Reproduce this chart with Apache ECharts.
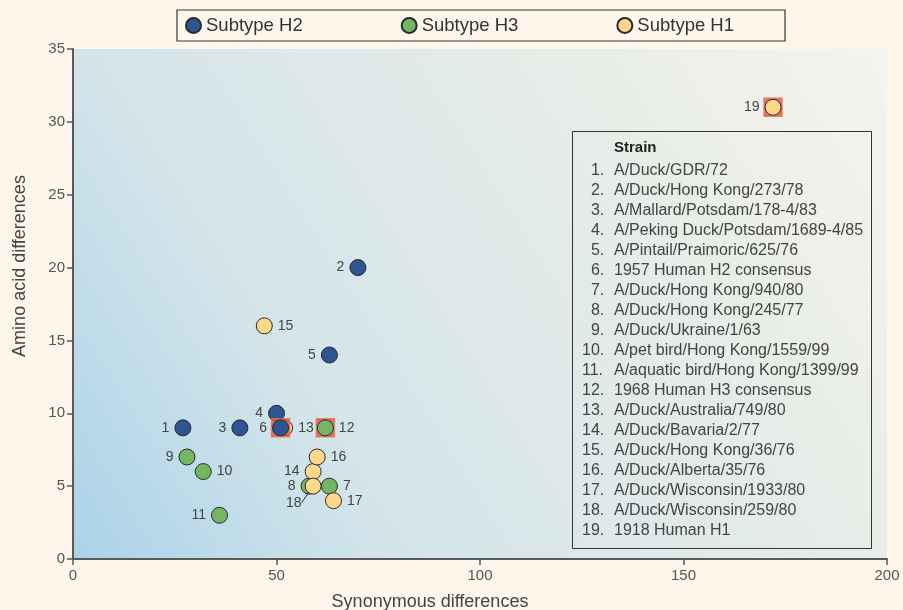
<!DOCTYPE html>
<html>
<head>
<meta charset="utf-8">
<script src="https://cdn.jsdelivr.net/npm/echarts@6/dist/echarts.min.js"></script>
<style>
  html, body { margin: 0; padding: 0; background: #fef6ea; }
  #chart { width: 903px; height: 610px; }
</style>
</head>
<body>
<div id="chart"></div>
<script>
// Strain data: index i is strain number i+1
var strainNames = [
    'A/Duck/GDR/72',
    'A/Duck/Hong Kong/273/78',
    'A/Mallard/Potsdam/178-4/83',
    'A/Peking Duck/Potsdam/1689-4/85',
    'A/Pintail/Praimoric/625/76',
    '1957 Human H2 consensus',
    'A/Duck/Hong Kong/940/80',
    'A/Duck/Hong Kong/245/77',
    'A/Duck/Ukraine/1/63',
    'A/pet bird/Hong Kong/1559/99',
    'A/aquatic bird/Hong Kong/1399/99',
    '1968 Human H3 consensus',
    'A/Duck/Australia/749/80',
    'A/Duck/Bavaria/2/77',
    'A/Duck/Hong Kong/36/76',
    'A/Duck/Alberta/35/76',
    'A/Duck/Wisconsin/1933/80',
    'A/Duck/Wisconsin/259/80',
    '1918 Human H1'
];
var synonymousDiff = [27, 70, 41, 50, 63, 51, 63, 58, 28, 32, 36, 62, 52, 59, 47, 60, 64, 59, 172];
var aminoAcidDiff  = [9, 20, 9, 10, 14, 9, 5, 5, 7, 6, 3, 9, 9, 6, 16, 7, 4, 5, 31];
var strainSubtype  = ['H2', 'H2', 'H2', 'H2', 'H2', 'H2', 'H3', 'H3', 'H3', 'H3', 'H3', 'H3',
                      'H1', 'H1', 'H1', 'H1', 'H1', 'H1', 'H1'];
var humanStrains   = [6, 12, 19];
var subtypes       = ['H2', 'H3', 'H1'];
var xTicks = { min: 0, max: 200, interval: 50 };
var yTicks = { min: 0, max: 35, interval: 5 };

var EchartsScatter = function() {

    var subtypeColors = { H2: '#2c5592', H3: '#74b663', H1: '#fed98c' };
    var subtypeZ = { H3: 2, H1: 3, H2: 4 };

    // where each number label sits relative to its point
    var labelSide = {
        1: 'left', 2: 'left', 3: 'left', 4: 'left', 5: 'left', 6: 'left',
        7: 'right', 8: 'left', 9: 'left', 10: 'right', 11: 'left', 12: 'right',
        13: 'right', 14: 'left', 15: 'right', 16: 'right', 17: 'right', 19: 'left'
    };

    var makePoint = function(i) {
        var num = i + 1;
        var item = {
            name: String(num),
            value: [synonymousDiff[i], aminoAcidDiff[i]]
        };
        if (num === 18) {
            // label hangs below-left with a small leader line
            item.label = { position: [-3, 25], align: 'right', verticalAlign: 'middle' };
            item.labelLine = { show: true };
        } else {
            item.label = { position: labelSide[num] };
        }
        return item;
    };

    var pointsFor = function(sub, human) {
        var out = [];
        for (var i = 0; i < strainNames.length; i++) {
            var isHuman = humanStrains.indexOf(i + 1) >= 0;
            if (strainSubtype[i] === sub && isHuman === human) {
                out.push(makePoint(i));
            }
        }
        return out;
    };

    var baseSeries = function(sub, data, z) {
        return {
            name: 'Subtype ' + sub,
            type: 'scatter',
            symbol: 'circle',
            symbolSize: 16,
            z: z,
            data: data,
            itemStyle: {
                color: subtypeColors[sub],
                borderColor: '#2a2a2a',
                borderWidth: 1,
                opacity: 1
            },
            label: {
                show: true,
                formatter: '{b}',
                distance: 5,
                color: '#444',
                fontSize: 14,
                fontFamily: 'Liberation Sans, Arial, sans-serif'
            },
            labelLine: {
                show: false,
                lineStyle: { color: '#333', width: 1 }
            },
            emphasis: { disabled: true }
        };
    };

    var series = [];
    subtypes.forEach(function(sub) {
        series.push(baseSeries(sub, pointsFor(sub, false), subtypeZ[sub]));
    });

    // red squares behind the human consensus strains
    series.push({
        name: 'Human consensus',
        type: 'scatter',
        symbol: 'rect',
        symbolSize: 18,
        z: 5,
        silent: true,
        data: humanStrains.map(function(n) {
            return [synonymousDiff[n - 1], aminoAcidDiff[n - 1]];
        }),
        itemStyle: { color: '#e1523a', borderColor: '#ea6d52', borderWidth: 1.5 }
    });

    subtypes.forEach(function(sub) {
        series.push(baseSeries(sub, pointsFor(sub, true), 6));
    });

    // strain key box as rich text; two spaces = one digit width in Liberation Sans
    var keyLines = ['{h|Strain}'];
    strainNames.forEach(function(name, i) {
        var num = (i + 1 < 10 ? '  ' : '') + (i + 1) + '.';
        keyLines.push('{n|' + num + '}{s|' + name + '}');
    });

    var chart = echarts.init(document.getElementById('chart'), null, { renderer: 'canvas' });

    chart.setOption({
        backgroundColor: '#fef6ea',
        animation: false,
        textStyle: {
            fontFamily: 'Liberation Sans, Arial, sans-serif'
        },

        title: {
            left: 572,
            top: 131,
            textAlign: 'left',
            padding: [4, 9, 8, 10],
            borderColor: '#333',
            borderWidth: 1,
            text: keyLines.join('\n'),
            textStyle: {
                align: 'left',
                fontSize: 16,
                fontWeight: 'normal',
                color: '#444',
                lineHeight: 20,
                rich: {
                    n: { width: 32, align: 'left', fontSize: 16, color: '#444', lineHeight: 20 },
                    h: { align: 'left', fontSize: 15, fontWeight: 'bold', color: '#222', padding: [0, 0, 0, 32], lineHeight: 26 },
                    s: { align: 'left', fontSize: 16, color: '#444', lineHeight: 20 }
                }
            }
        },

        legend: {
            data: subtypes.map(function(s) { return 'Subtype ' + s; }),
            left: 177,
            top: 10,
            padding: [6, 51, 6, 8],
            itemGap: 98,
            itemWidth: 15,
            itemHeight: 15,
            icon: 'circle',
            borderColor: '#333',
            borderWidth: 1.2,
            textStyle: {
                fontSize: 18.5,
                color: '#333'
            },
            selectedMode: false
        },

        grid: {
            left: 73,
            right: 16,
            top: 49,
            bottom: 51,
            containLabel: false,
            outerBoundsMode: 'none',
            show: true,
            borderWidth: 0,
            backgroundColor: new echarts.graphic.LinearGradient(0, 1, 1, 0, [
                { offset: 0, color: '#aad3e8' },
                { offset: 0.28, color: '#d3e4ea' },
                { offset: 0.72, color: '#e8ede8' },
                { offset: 1, color: '#f5f4ef' }
            ])
        },

        xAxis: {
            type: 'value',
            min: xTicks.min,
            max: xTicks.max,
            interval: xTicks.interval,
            name: 'Synonymous differences',
            nameLocation: 'middle',
            nameGap: 34,
            nameTextStyle: { fontSize: 18, color: '#444', padding: [0, 100, 0, 0] },
            axisLine: { lineStyle: { color: '#5a5a5a', width: 2 } },
            axisTick: { length: 6, lineStyle: { color: '#5a5a5a', width: 1.5 } },
            axisLabel: { fontSize: 15, color: '#555', margin: 9 },
            splitLine: { show: false }
        },

        yAxis: {
            type: 'value',
            min: yTicks.min,
            max: yTicks.max,
            interval: yTicks.interval,
            name: 'Amino acid differences',
            nameLocation: 'middle',
            nameGap: 44,
            nameTextStyle: { fontSize: 18, color: '#444', padding: [0, 0, 0, 76] },
            axisLine: { show: true, lineStyle: { color: '#5a5a5a', width: 2 } },
            axisTick: { show: true, length: 6, lineStyle: { color: '#5a5a5a', width: 1.5 } },
            axisLabel: { fontSize: 15, color: '#555', margin: 8 },
            splitLine: { show: false }
        },

        series: series
    });
};

EchartsScatter();
</script>
</body>
</html>
